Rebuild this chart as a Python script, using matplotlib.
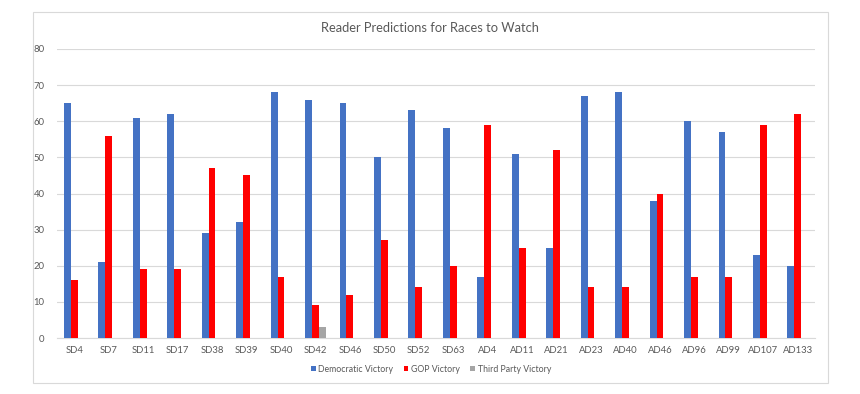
import matplotlib
matplotlib.use("Agg")
import matplotlib.pyplot as plt
import numpy as np
from matplotlib.patches import Rectangle

categories = ["SD4", "SD7", "SD11", "SD17", "SD38", "SD39", "SD40", "SD42", "SD46", "SD50",
              "SD52", "SD63", "AD4", "AD11", "AD21", "AD23", "AD40", "AD46", "AD96", "AD99",
              "AD107", "AD133"]
dem = [65, 21, 61, 62, 29, 32, 68, 66, 65, 50, 63, 58, 17, 51, 25, 67, 68, 38, 60, 57, 23, 20]
gop = [16, 56, 19, 19, 47, 45, 17, 9, 12, 27, 14, 20, 59, 25, 52, 14, 14, 40, 17, 17, 59, 62]
third = [0, 0, 0, 0, 0, 0, 0, 3, 0, 0, 0, 0, 0, 0, 0, 0, 0, 0, 0, 0, 0, 0]
series_names = ["Democratic Victory", "GOP Victory", "Third Party Victory"]
yticks = [0, 10, 20, 30, 40, 50, 60, 70, 80]

plt.rcParams['font.family'] = ['Lato', 'DejaVu Sans']
fig = plt.figure(figsize=(8.6, 3.94), dpi=100)
fig.patches.append(Rectangle((33/860, 1-383/394), (828-33)/860, (383-12)/394,
                             transform=fig.transFigure, fill=False,
                             edgecolor="#D9D9D9", linewidth=0.8))
ax = fig.add_axes([57/860, 1-338/394, (815-57)/860, (338-49)/394])

x = np.arange(len(categories))
w = 0.2
txt = "#595959"
ax.bar(x - w, dem, w, color="#4472C4", label=series_names[0], zorder=3)
ax.bar(x, gop, w, color="#FF0000", label=series_names[1], zorder=3)
ax.bar(x + w, third, w, color="#A5A5A5", label=series_names[2], zorder=3)

ax.set_xlim(-0.5, len(categories) - 0.5)
ax.set_ylim(0, 80)
ax.set_yticks(yticks)
ax.set_xticks(x)
ax.set_xticklabels(categories)
ax.tick_params(axis="both", length=0, labelsize=6.8, colors=txt)
ax.tick_params(axis="y", pad=9)
ax.tick_params(axis="x", pad=6)
ax.grid(axis="y", color="#D9D9D9", linewidth=0.8, zorder=0)
for s in ["top", "right", "left"]:
    ax.spines[s].set_visible(False)
ax.spines["bottom"].set_color("#D9D9D9")
ax.spines["bottom"].set_linewidth(0.8)

fig.text(430/860, 1-28/394, "Reader Predictions for Races to Watch", ha="center", va="center",
         fontsize=9.3, color=txt)
fig.legend(loc="center", bbox_to_anchor=(431/860, 1-369/394), ncol=3, frameon=False,
           fontsize=6.3, labelcolor=txt, handlelength=0.55, handleheight=0.55,
           handletextpad=0.3, columnspacing=1.2)

fig.savefig("out.png", dpi=100, facecolor="white")
